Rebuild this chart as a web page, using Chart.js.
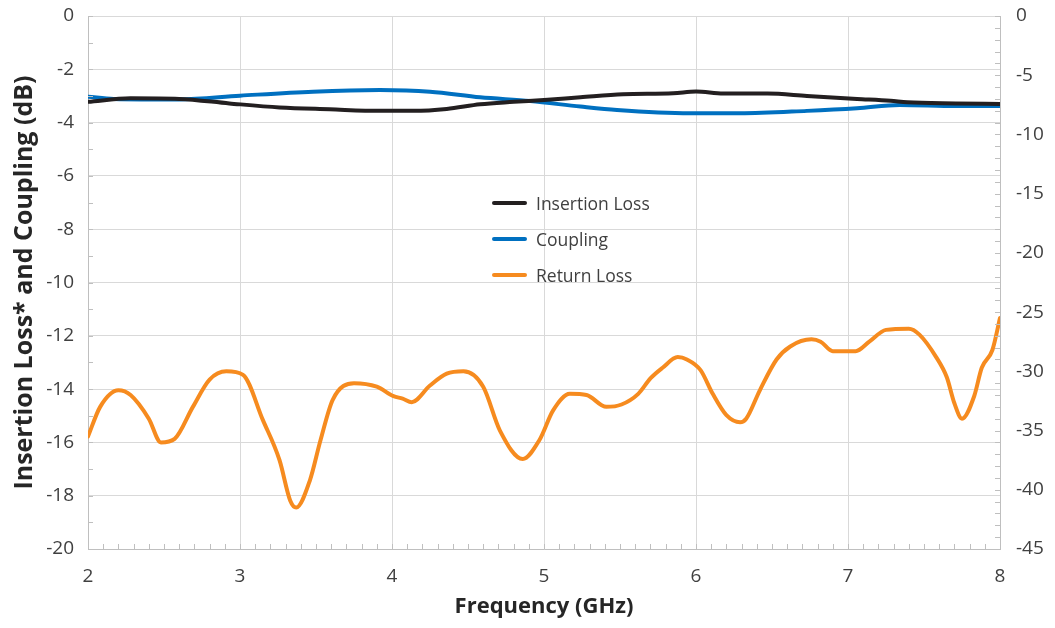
<!DOCTYPE html>
<html><head><meta charset="utf-8">
<script src="https://cdn.jsdelivr.net/npm/chart.js@4.4.1/dist/chart.umd.min.js"></script>
<style>
html,body{margin:0;padding:0;background:#fff;}
#wrap{position:relative;width:1055px;height:628px;}
#legend{position:absolute;left:490px;top:190px;font-family:"Open Sans",sans-serif;font-size:17.5px;color:#404040;}
.li{position:relative;height:36px;line-height:26px;padding-left:46px;white-space:nowrap;}
.li span.sw{position:absolute;left:2px;top:11px;width:35px;height:4px;border-radius:2px;}
</style></head>
<body><div id="wrap"><canvas id="c" width="1055" height="628"></canvas>
<div id="legend"></div></div>
<script>
const seriesNames = ["Insertion Loss", "Coupling", "Return Loss"];
const seriesColors = ["#231f20", "#0070c0", "#f68b1f"];
const xTitle = "Frequency (GHz)";
const yTitle = "Insertion Loss* and Coupling (dB)";

const ilFreq = [2.0,2.28,2.6,2.93,3.26,3.59,3.92,4.14,4.36,4.58,4.8,5.0,5.24,5.52,5.85,6.0,6.18,6.47,6.73,7.06,7.28,7.39,7.71,8.0];
const ilVals = [-3.22,-3.09,-3.11,-3.28,-3.43,-3.50,-3.56,-3.56,-3.49,-3.31,-3.22,-3.15,-3.05,-2.94,-2.90,-2.83,-2.91,-2.91,-3.00,-3.11,-3.18,-3.24,-3.28,-3.30];

const cpFreq = [2.0,2.17,2.6,3.0,3.48,3.92,4.25,4.58,4.91,5.24,5.48,5.96,6.29,6.73,7.06,7.34,7.71,8.0];
const cpVals = [-3.03,-3.11,-3.13,-2.99,-2.84,-2.78,-2.84,-3.05,-3.19,-3.40,-3.53,-3.65,-3.65,-3.56,-3.46,-3.34,-3.38,-3.38];

const rlFreq = [2.00,2.08,2.20,2.28,2.40,2.48,2.57,2.69,2.80,2.91,3.02,3.15,3.26,3.33,3.37,3.46,3.53,3.61,3.75,3.90,4.01,4.07,4.13,4.25,4.36,4.47,4.60,4.71,4.86,4.97,5.06,5.17,5.28,5.41,5.51,5.62,5.70,5.78,5.88,5.94,6.03,6.11,6.20,6.29,6.33,6.42,6.53,6.62,6.76,6.82,6.90,7.05,7.14,7.25,7.40,7.47,7.58,7.65,7.70,7.75,7.83,7.88,7.95,8.00];
const rlVals = [-35.5,-33.0,-31.6,-32.0,-34.0,-36.0,-35.7,-33.0,-30.7,-30.0,-30.3,-34.1,-37.5,-40.9,-41.5,-39.2,-35.8,-32.4,-31.0,-31.3,-32.1,-32.3,-32.6,-31.2,-30.2,-30.0,-31.3,-35.0,-37.4,-35.8,-33.3,-31.9,-32.0,-33.0,-32.8,-31.9,-30.6,-29.7,-28.8,-29.0,-29.9,-31.9,-33.7,-34.3,-34.0,-31.6,-29.0,-27.9,-27.3,-27.5,-28.3,-28.3,-27.5,-26.5,-26.4,-26.9,-28.8,-30.5,-32.7,-34.0,-32.1,-29.7,-28.2,-25.5];

const xMin = 2, xMax = 8, xStep = 1, xMinor = 0.1;
const yMin = -20, yMax = 0, yStep = 2, yMinor = 1;
const y2Min = -45, y2Max = 0, y2Step = 5, y2Minor = 1;

const pts = (f, v) => f.map((x, i) => ({x: x, y: v[i]}));
const gridCol = "#d9d9d9", axisCol = "#bfbfbf", tickFontCol = "#404040";
const tickFont = {family: "Open Sans", size: 19};
const xTitleFont = {family: "Open Sans", size: 22, weight: "bold"};
const yTitleFont = {family: "Open Sans", size: 25, weight: "bold"};

const noPad = (s) => { s.paddingTop = 0; s.paddingBottom = 0; s.paddingLeft = 0; s.paddingRight = 0; };

const minorTicks = {
  id: "minorTicks",
  afterDatasetsDraw(chart) {
    const {ctx, chartArea: a, scales} = chart;
    ctx.save();
    ctx.strokeStyle = axisCol; ctx.lineWidth = 1;
    ctx.beginPath();
    const L = 5;
    for (let v = xMin; v <= xMax + 1e-9; v += xMinor) {
      const px = Math.round(scales.x.getPixelForValue(v)) + 0.5;
      ctx.moveTo(px, a.bottom); ctx.lineTo(px, a.bottom - L);
    }
    for (let v = yMin; v <= yMax + 1e-9; v += yMinor) {
      const py = Math.round(scales.y.getPixelForValue(v)) + 0.5;
      ctx.moveTo(a.left, py); ctx.lineTo(a.left + L, py);
    }
    for (let v = y2Min; v <= y2Max + 1e-9; v += y2Minor) {
      const py = Math.round(scales.y2.getPixelForValue(v)) + 0.5;
      ctx.moveTo(a.right, py); ctx.lineTo(a.right - L, py);
    }
    ctx.stroke();
    ctx.restore();
  }
};

new Chart(document.getElementById("c"), {
  type: "line",
  data: {
    datasets: [
      {label: seriesNames[0], data: pts(ilFreq, ilVals), borderColor: seriesColors[0], yAxisID: "y"},
      {label: seriesNames[1], data: pts(cpFreq, cpVals), borderColor: seriesColors[1], yAxisID: "y"},
      {label: seriesNames[2], data: pts(rlFreq, rlVals), borderColor: seriesColors[2], yAxisID: "y2"}
    ]
  },
  options: {
    responsive: false, animation: false, devicePixelRatio: 1,
    layout: {padding: {top: 16, right: 0, bottom: 0, left: 0}},
    elements: {point: {radius: 0}, line: {borderWidth: 4, cubicInterpolationMode: "monotone", borderCapStyle: "round", borderJoinStyle: "round"}},
    plugins: {legend: {display: false}, tooltip: {enabled: false}},
    scales: {
      x: {
        type: "linear", min: xMin, max: xMax,
        ticks: {stepSize: xStep, font: tickFont, color: tickFontCol, padding: 16},
        grid: {color: gridCol, drawTicks: false},
        border: {color: axisCol, width: 1},
        title: {display: true, text: xTitle, font: xTitleFont, color: "#262626", padding: {top: 0, bottom: 8}},
        afterFit(s) { s.height = 79; noPad(s); }
      },
      y: {
        type: "linear", position: "left", min: yMin, max: yMax,
        ticks: {stepSize: yStep, font: tickFont, color: tickFontCol, padding: 14},
        grid: {color: gridCol, drawTicks: false},
        border: {color: axisCol, width: 1},
        title: {display: true, text: yTitle, font: yTitleFont, color: "#262626", padding: {top: 10, bottom: 0}},
        afterFit(s) { s.width = 88; noPad(s); }
      },
      y2: {
        type: "linear", position: "right", min: y2Min, max: y2Max,
        ticks: {stepSize: y2Step, font: tickFont, color: tickFontCol, padding: 16},
        grid: {drawOnChartArea: false, drawTicks: false},
        border: {color: axisCol, width: 1},
        afterFit(s) { s.width = 55; noPad(s); }
      }
    }
  },
  plugins: [minorTicks]
});

const lg = document.getElementById("legend");
seriesNames.forEach((n, i) => {
  const d = document.createElement("div"); d.className = "li";
  const sw = document.createElement("span"); sw.className = "sw"; sw.style.background = seriesColors[i];
  d.appendChild(sw); d.appendChild(document.createTextNode(n)); lg.appendChild(d);
});
</script></body></html>
